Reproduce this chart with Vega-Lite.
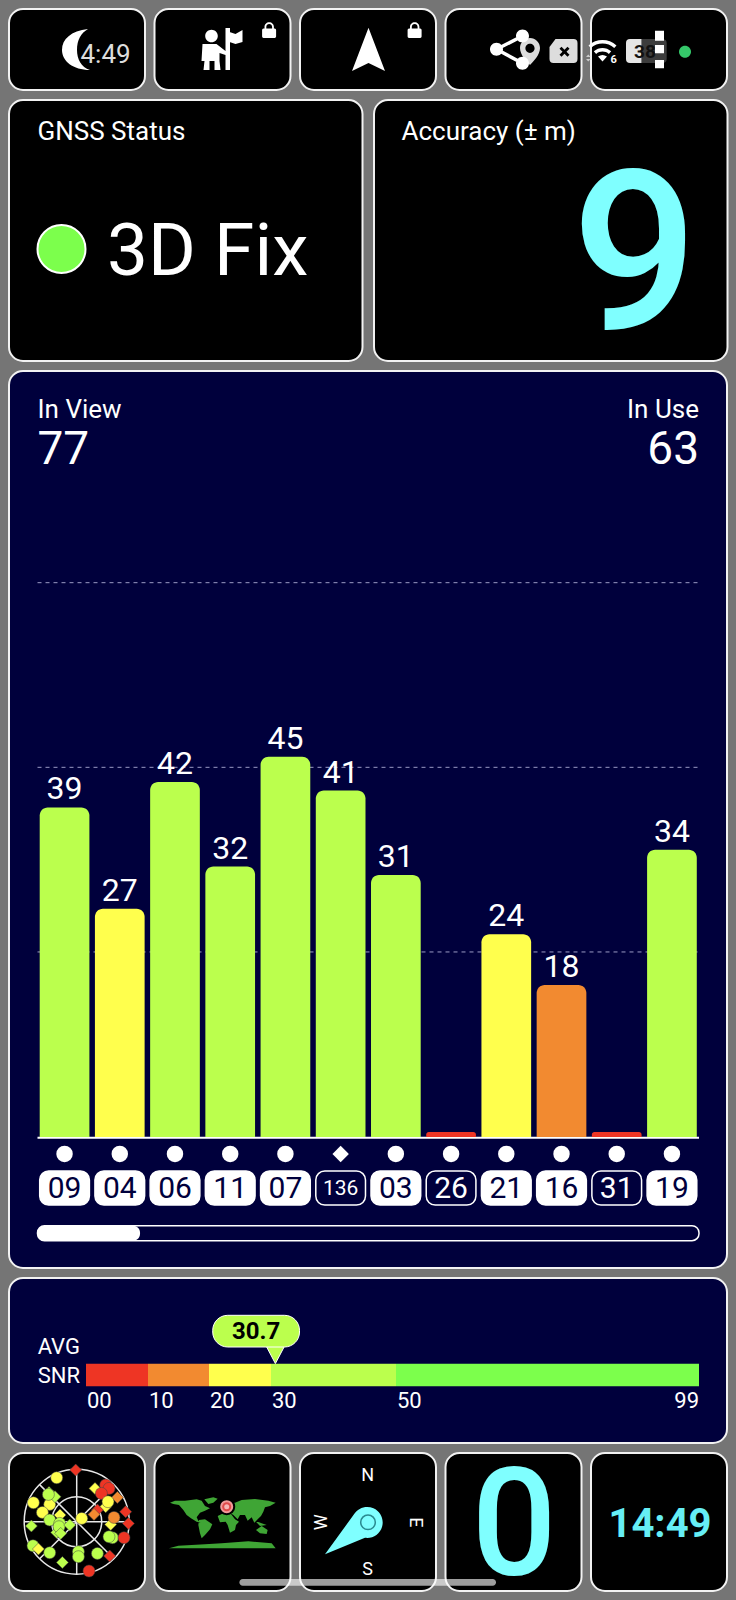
{
  "$schema": "https://vega.github.io/schema/vega-lite/v6.json",
  "description": "GNSS status dashboard: tiles, satellite SNR bars and average SNR scale.",
  "background": "#757575",
  "padding": {"left": 8, "top": 8, "right": 10, "bottom": 9},
  "bounds": "flush",
  "spacing": 0,
  "config": {
    "view": {"fill": "#000000", "stroke": "#f2f2f2", "strokeWidth": 2, "cornerRadius": 14},
    "text": {"font": "Roboto", "color": "#ffffff", "align": "left", "baseline": "alphabetic"}
  },
  "vconcat": [
    {
      "bounds": "flush",
      "spacing": 9.5,
      "hconcat": [
        {
          "width": 136, "height": 81,
          "data": {"values": [{"clock": "4:49"}]},
          "encoding": {
            "x": {"datum": 0, "type": "quantitative", "scale": {"domain": [0, 136]}, "axis": null},
            "y": {"datum": 0, "type": "quantitative", "scale": {"domain": [81, 0]}, "axis": null}
          },
          "layer": [
            {"mark": {"type": "point", "size": 4, "filled": true, "fill": "#ffffff", "opacity": 1, "strokeWidth": 0,
              "shape": "M79,20 C62,22 53,30 53,41 C53,52 64,61 81,61 C72,58 68,50 68,41 C68,31 72,24 79,20Z"}},
            {"mark": {"type": "text", "fontSize": 26, "color": "#dddddd"},
              "encoding": {
                "x": {"datum": 71.5, "type": "quantitative", "scale": {"domain": [0, 136]}, "axis": null},
                "y": {"datum": 53.7, "type": "quantitative", "scale": {"domain": [81, 0]}, "axis": null},
                "text": {"field": "clock"}
              }}
          ]
        },
        {
          "width": 136, "height": 81,
          "data": {"values": [{"icon": "waypoint"}]},
          "mark": {"type": "point", "size": 4, "filled": true, "fill": "#ffffff", "opacity": 1, "strokeWidth": 0,
            "shape": "M50.7,27 a6.3,6.3 0 1 1 12.6,0 a6.3,6.3 0 1 1 -12.6,0Z M48,35 L62,35 L71,42 L71,46 L65,44 L65,52 L66,61 L60,61 L60,52 L55,52 L55,61 L49,61 L50,52 L47,52Z M71,19 L75.5,19 L75.5,61 L71,61Z M75,23 L81,25 L88,21 L88,33 L81,35 L75,33Z M107.6,21 Q107.6,19.5 109,19.5 L120.2,19.5 Q121.6,19.5 121.6,21 L121.6,27.6 Q121.6,29 120.2,29 L109,29 Q107.6,29 107.6,27.6Z M110,20 L110,18 A4.7,4.7 0 0 1 119.4,18 L119.4,20 L117.6,20 L117.6,18 A2.9,2.9 0 0 0 111.8,18 L111.8,20Z"},
          "encoding": {
            "x": {"datum": 0, "type": "quantitative", "scale": {"domain": [0, 136]}, "axis": null},
            "y": {"datum": 0, "type": "quantitative", "scale": {"domain": [81, 0]}, "axis": null}
          }
        },
        {
          "width": 136, "height": 81,
          "data": {"values": [{"icon": "navigation"}]},
          "mark": {"type": "point", "size": 4, "filled": true, "fill": "#ffffff", "opacity": 1, "strokeWidth": 0,
            "shape": "M68.5,18.7 L85,62 L68.5,54 L52,62Z M107.6,21 Q107.6,19.5 109,19.5 L120.2,19.5 Q121.6,19.5 121.6,21 L121.6,27.6 Q121.6,29 120.2,29 L109,29 Q107.6,29 107.6,27.6Z M110,20 L110,18 A4.7,4.7 0 0 1 119.4,18 L119.4,20 L117.6,20 L117.6,18 A2.9,2.9 0 0 0 111.8,18 L111.8,20Z"},
          "encoding": {
            "x": {"datum": 0, "type": "quantitative", "scale": {"domain": [0, 136]}, "axis": null},
            "y": {"datum": 0, "type": "quantitative", "scale": {"domain": [81, 0]}, "axis": null}
          }
        },
        {
          "width": 136, "height": 81,
          "data": {"values": [{"icon": "share"}]},
          "encoding": {
            "x": {"datum": 0, "type": "quantitative", "scale": {"domain": [0, 136]}, "axis": null},
            "y": {"datum": 0, "type": "quantitative", "scale": {"domain": [81, 0]}, "axis": null}
          },
          "layer": [
            {"mark": {"type": "point", "size": 4, "filled": true, "fill": "#dddddd", "opacity": 1, "strokeWidth": 0,
              "shape": "M84.5,29 C90,29 94.5,33.5 94.5,39 C94.5,46 88,52 84.5,56 C81,52 74.5,46 74.5,39 C74.5,33.5 79,29 84.5,29Z M110,30 L128,30 Q132,30 132,34 L132,50 Q132,54 128,54 L108,54 Q104,54 104,50 L104,38Z"}},
            {"mark": {"type": "point", "size": 4, "filled": true, "fill": "#000000", "opacity": 1, "strokeWidth": 0,
              "shape": "M79.9,39.3 a4.6,4.6 0 1 1 9.2,0 a4.6,4.6 0 1 1 -9.2,0Z M114,39.7 L116,37.7 L119,40.7 L122,37.7 L124,39.7 L121,42.7 L124,45.7 L122,47.7 L119,44.7 L116,47.7 L114,45.7 L117,42.7Z"}},
            {"mark": {"type": "point", "size": 4, "filled": true, "fill": "#ffffff", "opacity": 1, "strokeWidth": 0,
              "shape": "M44.5,40.3 a6.5,6.5 0 1 1 13,0 a6.5,6.5 0 1 1 -13,0Z M70.5,27 a6.5,6.5 0 1 1 13,0 a6.5,6.5 0 1 1 -13,0Z M70.5,54.3 a6.5,6.5 0 1 1 13,0 a6.5,6.5 0 1 1 -13,0Z M50.2,38.74 L76.2,25.44 L77.8,28.56 L51.8,41.86Z M51.83,38.76 L77.83,52.76 L76.17,55.84 L50.17,41.84Z"}}
          ]
        },
        {
          "width": 136, "height": 81,
          "data": {"values": [{"battery": "38", "wifi": "6"}]},
          "encoding": {
            "x": {"datum": 0, "type": "quantitative", "scale": {"domain": [0, 136]}, "axis": null},
            "y": {"datum": 0, "type": "quantitative", "scale": {"domain": [81, 0]}, "axis": null}
          },
          "layer": [
            {"mark": {"type": "point", "size": 4, "filled": true, "fill": "#ffffff", "opacity": 1, "strokeWidth": 0,
              "shape": "M-2.5,36.4 A21,21 0 0 1 25.5,36.4 L23.2,39 A17.5,17.5 0 0 0 -0.2,39Z M2.8,42.3 A13,13 0 0 1 20.2,42.3 L17.86,44.9 A9.5,9.5 0 0 0 5.14,44.9Z M7,47.6 Q11.5,44.5 16,47.6 L11.5,52.5Z"}},
            {"mark": {"type": "point", "size": 4, "filled": true, "fill": "#cccccc", "opacity": 1, "strokeWidth": 0,
              "shape": "M-5,48 L-2.7,45.5 L-0.4,48Z M-5,50 L-0.4,50 L-2.7,52.5Z"}},
            {"mark": {"type": "text", "fontSize": 11, "fontWeight": "bold"},
              "encoding": {
                "x": {"datum": 19.5, "type": "quantitative", "scale": {"domain": [0, 136]}, "axis": null},
                "y": {"datum": 54, "type": "quantitative", "scale": {"domain": [81, 0]}, "axis": null},
                "text": {"field": "wifi"}
              }},
            {"mark": {"type": "point", "size": 4, "filled": true, "fill": "#e6e6e6", "opacity": 1, "strokeWidth": 0,
              "shape": "M39,30 L50.7,30 L50.7,54 L39,54 Q35,54 35,50 L35,34 Q35,30 39,30Z"}},
            {"mark": {"type": "point", "size": 4, "filled": true, "fill": "#3c3c3c", "opacity": 1, "strokeWidth": 0,
              "shape": "M50.7,30 L71,30 Q75.7,30 75.7,34 L75.7,50 Q75.7,54 71,54 L50.7,54Z"}},
            {"mark": {"type": "text", "fontSize": 19, "fontWeight": "bold", "color": "#111111", "align": "center"},
              "encoding": {
                "x": {"datum": 54, "type": "quantitative", "scale": {"domain": [0, 136]}, "axis": null},
                "y": {"datum": 48.5, "type": "quantitative", "scale": {"domain": [81, 0]}, "axis": null},
                "text": {"field": "battery"}
              }},
            {"mark": {"type": "point", "size": 4, "filled": true, "fill": "#ffffff", "opacity": 1, "strokeWidth": 0,
              "shape": "M64,21.7 L73,21.7 L73,31.7 L64,31.7Z M64,36 L73,36 L73,44.3 L64,44.3Z M64,51 L73,51 L73,59.3 L64,59.3Z"}},
            {"mark": {"type": "point", "size": 4, "filled": true, "fill": "#35c86a", "opacity": 1, "strokeWidth": 0,
              "shape": "M88,42.7 a6,6 0 1 1 12,0 a6,6 0 1 1 -12,0Z"}}
          ]
        }
      ]
    },
    {"width": 718, "height": 91, "view": {"fill": "transparent", "stroke": "transparent"}, "data": {"values": []}, "mark": "text"},
    {
      "bounds": "flush",
      "spacing": 11,
      "hconcat": [
        {
          "width": 353.5, "height": 261,
          "data": {"values": [{"heading": "GNSS Status", "status": "3D Fix"}]},
          "layer": [
            {"mark": {"type": "text", "fontSize": 26},
              "encoding": {
                "x": {"datum": 28.5, "type": "quantitative", "scale": {"domain": [0, 353.5]}, "axis": null},
                "y": {"datum": 40, "type": "quantitative", "scale": {"domain": [261, 0]}, "axis": null},
                "text": {"field": "heading"}
              }},
            {"mark": {"type": "point", "shape": "circle", "size": 2304, "filled": true, "fill": "#7cff4c", "stroke": "#ffffff", "strokeWidth": 2, "opacity": 1},
              "encoding": {
                "x": {"datum": 52.5, "type": "quantitative", "scale": {"domain": [0, 353.5]}, "axis": null},
                "y": {"datum": 149, "type": "quantitative", "scale": {"domain": [261, 0]}, "axis": null}
              }},
            {"mark": {"type": "text", "fontSize": 73, "fontWeight": 400},
              "encoding": {
                "x": {"datum": 98, "type": "quantitative", "scale": {"domain": [0, 353.5]}, "axis": null},
                "y": {"datum": 175, "type": "quantitative", "scale": {"domain": [261, 0]}, "axis": null},
                "text": {"field": "status"}
              }}
          ]
        },
        {
          "width": 353.5, "height": 261,
          "data": {"values": [{"heading": "Accuracy (± m)", "accuracy": "9"}]},
          "layer": [
            {"mark": {"type": "text", "fontSize": 26},
              "encoding": {
                "x": {"datum": 27.5, "type": "quantitative", "scale": {"domain": [0, 353.5]}, "axis": null},
                "y": {"datum": 40, "type": "quantitative", "scale": {"domain": [261, 0]}, "axis": null},
                "text": {"field": "heading"}
              }},
            {"mark": {"type": "text", "fontSize": 222, "fontWeight": 500, "color": "#7fffff", "align": "right"},
              "encoding": {
                "x": {"datum": 324, "type": "quantitative", "scale": {"domain": [0, 353.5]}, "axis": null},
                "y": {"datum": 229, "type": "quantitative", "scale": {"domain": [261, 0]}, "axis": null},
                "text": {"field": "accuracy"}
              }}
          ]
        }
      ]
    },
    {"width": 718, "height": 271, "view": {"fill": "transparent", "stroke": "transparent"}, "data": {"values": []}, "mark": "text"},
    {
      "width": 718, "height": 897,
      "view": {"fill": "#00003c", "stroke": "#f2f2f2", "strokeWidth": 2, "cornerRadius": 14},
      "resolve": {"scale": {"x": "independent"}},
      "layer": [
        {
          "data": {"values": [{"grid": 21.9}, {"grid": 43.75}, {"grid": 65.6}]},
          "mark": {"type": "rule", "color": "#9a9ac4", "strokeWidth": 1, "strokeDash": [4, 4]},
          "encoding": {
            "x": {"datum": 0, "type": "quantitative", "scale": {"domain": [0, 100], "range": [28.5, 690]}, "axis": null},
            "x2": {"datum": 100},
            "y": {"field": "grid", "type": "quantitative", "scale": {"domain": [-15.5, 90.65]}, "axis": null}
          }
        },
        {
          "data": {"values": [{"inViewLabel": "In View", "inView": "77", "inUseLabel": "In Use", "inUse": "63"}]},
          "encoding": {
            "x": {"datum": 0, "type": "quantitative", "scale": {"domain": [0, 100], "range": [28.5, 690]}, "axis": null},
            "y": {"datum": 85.1, "type": "quantitative", "scale": {"domain": [-15.5, 90.65]}, "axis": null}
          },
          "layer": [
            {"mark": {"type": "text", "fontSize": 26}, "encoding": {"text": {"field": "inViewLabel"}}},
            {"mark": {"type": "text", "fontSize": 46},
              "encoding": {
                "y": {"datum": 79.6, "type": "quantitative", "scale": {"domain": [-15.5, 90.65]}, "axis": null},
                "text": {"field": "inView"}
              }},
            {"mark": {"type": "text", "fontSize": 26, "align": "right"},
              "encoding": {
                "x": {"datum": 100, "type": "quantitative", "scale": {"domain": [0, 100], "range": [28.5, 690]}, "axis": null},
                "text": {"field": "inUseLabel"}
              }},
            {"mark": {"type": "text", "fontSize": 46, "align": "right"},
              "encoding": {
                "x": {"datum": 100, "type": "quantitative", "scale": {"domain": [0, 100], "range": [28.5, 690]}, "axis": null},
                "y": {"datum": 79.6, "type": "quantitative", "scale": {"domain": [-15.5, 90.65]}, "axis": null},
                "text": {"field": "inUse"}
              }},
            {"mark": {"type": "rule", "color": "#ffffff", "strokeWidth": 2},
              "encoding": {
                "x2": {"datum": 100},
                "y": {"datum": -0.1, "type": "quantitative", "scale": {"domain": [-15.5, 90.65]}, "axis": null}
              }},
            {"mark": {"type": "rect", "fill": "#00003c", "stroke": "#ffffff", "strokeWidth": 1.5, "cornerRadius": 7},
              "encoding": {
                "x2": {"datum": 100},
                "y": {"datum": -10.5, "type": "quantitative", "scale": {"domain": [-15.5, 90.65]}, "axis": null},
                "y2": {"datum": -12.27}
              }},
            {"mark": {"type": "rect", "fill": "#ffffff", "cornerRadius": 7},
              "encoding": {
                "x2": {"datum": 15.5},
                "y": {"datum": -10.5, "type": "quantitative", "scale": {"domain": [-15.5, 90.65]}, "axis": null},
                "y2": {"datum": -12.27}
              }}
          ]
        },
        {
          "data": {"values": [
            {"prn": "09", "snr": 39, "used": true, "system": "a"},
            {"prn": "04", "snr": 27, "used": true, "system": "a"},
            {"prn": "06", "snr": 42, "used": true, "system": "a"},
            {"prn": "11", "snr": 32, "used": true, "system": "a"},
            {"prn": "07", "snr": 45, "used": true, "system": "a"},
            {"prn": "136", "snr": 41, "used": false, "system": "b"},
            {"prn": "03", "snr": 31, "used": true, "system": "a"},
            {"prn": "26", "snr": 0.6, "used": false, "system": "a"},
            {"prn": "21", "snr": 24, "used": true, "system": "a"},
            {"prn": "16", "snr": 18, "used": true, "system": "a"},
            {"prn": "31", "snr": 0.6, "used": false, "system": "a"},
            {"prn": "19", "snr": 34, "used": true, "system": "a"}
          ]},
          "encoding": {
            "x": {"field": "prn", "type": "nominal", "sort": null, "axis": null,
              "scale": {"type": "band", "range": [28.5, 690], "paddingInner": 0.1, "paddingOuter": 0.04}}
          },
          "layer": [
            {"mark": {"type": "bar", "cornerRadiusTopLeft": 8, "cornerRadiusTopRight": 8},
              "encoding": {
                "y": {"field": "snr", "type": "quantitative", "stack": null, "scale": {"domain": [-15.5, 90.65]}, "axis": null},
                "color": {"field": "snr", "type": "quantitative", "legend": null,
                  "scale": {"type": "threshold", "domain": [10, 20, 30, 50], "range": ["#ee3524", "#f28a30", "#ffff4d", "#bbff4d", "#7cff4c"]}}
              }},
            {"transform": [{"filter": "datum.snr >= 1"}],
              "mark": {"type": "text", "fontSize": 32, "align": "center", "baseline": "bottom", "dy": -1},
              "encoding": {
                "y": {"field": "snr", "type": "quantitative", "scale": {"domain": [-15.5, 90.65]}, "axis": null},
                "text": {"field": "snr", "type": "quantitative"}
              }},
            {"mark": {"type": "point", "filled": true, "fill": "#ffffff", "opacity": 1, "size": 270, "strokeWidth": 0},
              "encoding": {
                "y": {"datum": -2, "type": "quantitative", "scale": {"domain": [-15.5, 90.65]}, "axis": null},
                "shape": {"field": "system", "type": "nominal", "legend": null, "scale": {"domain": ["a", "b"], "range": ["circle", "diamond"]}}
              }},
            {"mark": {"type": "rect", "stroke": "#ffffff", "strokeWidth": 1.5, "cornerRadius": 9},
              "encoding": {
                "y": {"datum": -4.02, "type": "quantitative", "scale": {"domain": [-15.5, 90.65]}, "axis": null},
                "y2": {"datum": -8.05},
                "fill": {"condition": {"test": "datum.used", "value": "#ffffff"}, "value": "#00003c"}
              }},
            {"mark": {"type": "text", "align": "center", "baseline": "middle", "dy": 1},
              "encoding": {
                "y": {"datum": -6.03, "type": "quantitative", "scale": {"domain": [-15.5, 90.65]}, "axis": null},
                "text": {"field": "prn"},
                "size": {"condition": {"test": "length(datum.prn) > 2", "value": 21}, "value": 30},
                "color": {"condition": {"test": "datum.used", "value": "#00003c"}, "value": "#ffffff"}
              }}
          ]
        }
      ]
    },
    {"width": 718, "height": 10, "view": {"fill": "transparent", "stroke": "transparent"}, "data": {"values": []}, "mark": "text"},
    {
      "width": 718, "height": 165,
      "view": {"fill": "#00003c", "stroke": "#f2f2f2", "strokeWidth": 2, "cornerRadius": 14},
      "layer": [
        {
          "data": {"values": [
            {"from": 0, "to": 10},
            {"from": 10, "to": 20},
            {"from": 20, "to": 30},
            {"from": 30, "to": 50},
            {"from": 50, "to": 99}
          ]},
          "mark": {"type": "rect"},
          "encoding": {
            "x": {"field": "from", "type": "quantitative", "axis": null,
              "scale": {"domain": [0, 10, 20, 30, 50, 99], "range": [77, 139, 200, 262, 387, 690]}},
            "x2": {"field": "to"},
            "y": {"datum": 85.7, "type": "quantitative", "scale": {"domain": [165, 0]}, "axis": null},
            "y2": {"datum": 108.3},
            "color": {"field": "from", "type": "quantitative", "legend": null,
              "scale": {"type": "threshold", "domain": [10, 20, 30, 50], "range": ["#ee3524", "#f28a30", "#ffff4d", "#bbff4d", "#7cff4c"]}}
          }
        },
        {
          "data": {"values": [{"tick": 0, "label": "00"}, {"tick": 10, "label": "10"}, {"tick": 20, "label": "20"}, {"tick": 30, "label": "30"}, {"tick": 50, "label": "50"}]},
          "mark": {"type": "text", "fontSize": 22, "dx": 1},
          "encoding": {
            "x": {"field": "tick", "type": "quantitative", "axis": null,
              "scale": {"domain": [0, 10, 20, 30, 50, 99], "range": [77, 139, 200, 262, 387, 690]}},
            "y": {"datum": 130, "type": "quantitative", "scale": {"domain": [165, 0]}, "axis": null},
            "text": {"field": "label"}
          }
        },
        {
          "data": {"values": [{"tick": 99, "label": "99"}]},
          "mark": {"type": "text", "fontSize": 22, "align": "right"},
          "encoding": {
            "x": {"field": "tick", "type": "quantitative", "axis": null,
              "scale": {"domain": [0, 10, 20, 30, 50, 99], "range": [77, 139, 200, 262, 387, 690]}},
            "y": {"datum": 130, "type": "quantitative", "scale": {"domain": [165, 0]}, "axis": null},
            "text": {"field": "label"}
          }
        },
        {
          "data": {"values": [{"avg": 30.7, "label": "30.7", "line1": "AVG", "line2": "SNR"}]},
          "layer": [
            {"mark": {"type": "text", "fontSize": 22},
              "encoding": {
                "x": {"datum": -7.8, "type": "quantitative", "axis": null,
                  "scale": {"domain": [0, 10, 20, 30, 50, 99], "range": [77, 139, 200, 262, 387, 690]}},
                "y": {"datum": 76, "type": "quantitative", "scale": {"domain": [165, 0]}, "axis": null},
                "text": {"field": "line1"}
              }},
            {"mark": {"type": "text", "fontSize": 22},
              "encoding": {
                "x": {"datum": -7.8, "type": "quantitative", "axis": null,
                  "scale": {"domain": [0, 10, 20, 30, 50, 99], "range": [77, 139, 200, 262, 387, 690]}},
                "y": {"datum": 105, "type": "quantitative", "scale": {"domain": [165, 0]}, "axis": null},
                "text": {"field": "line2"}
              }},
            {"mark": {"type": "point", "filled": true, "fill": "#bbff4d", "stroke": "#ffffff", "strokeWidth": 1, "opacity": 1, "size": 324,
              "shape": "M-1,-0.95 L1,-0.95 L0,0.95Z"},
              "encoding": {
                "x": {"field": "avg", "type": "quantitative", "axis": null,
                  "scale": {"domain": [0, 10, 20, 30, 50, 99], "range": [77, 139, 200, 262, 387, 690]}},
                "y": {"datum": 77, "type": "quantitative", "scale": {"domain": [165, 0]}, "axis": null}
              }},
            {"mark": {"type": "rect", "fill": "#bbff4d", "stroke": "#ffffff", "strokeWidth": 1, "cornerRadius": 15},
              "encoding": {
                "x": {"datum": 20.6, "type": "quantitative", "axis": null,
                  "scale": {"domain": [0, 10, 20, 30, 50, 99], "range": [77, 139, 200, 262, 387, 690]}},
                "x2": {"datum": 34.56},
                "y": {"datum": 37.3, "type": "quantitative", "scale": {"domain": [165, 0]}, "axis": null},
                "y2": {"datum": 69}
              }},
            {"mark": {"type": "text", "fontSize": 24, "fontWeight": "bold", "color": "#000000", "align": "center"},
              "encoding": {
                "x": {"datum": 27.6, "type": "quantitative", "axis": null,
                  "scale": {"domain": [0, 10, 20, 30, 50, 99], "range": [77, 139, 200, 262, 387, 690]}},
                "y": {"datum": 61, "type": "quantitative", "scale": {"domain": [165, 0]}, "axis": null},
                "text": {"field": "label"}
              }}
          ]
        }
      ]
    },
    {"width": 718, "height": 10, "view": {"fill": "transparent", "stroke": "transparent"}, "data": {"values": []}, "mark": "text"},
    {
      "bounds": "flush",
      "spacing": 9.5,
      "hconcat": [
        {
          "width": 136, "height": 138,
          "layer": [
            {
              "data": {"values": [{"e": 0, "n": 0}]},
              "encoding": {
                "x": {"field": "e", "type": "quantitative", "scale": {"domain": [-67.7, 68.3]}, "axis": null},
                "y": {"field": "n", "type": "quantitative", "scale": {"domain": [-69.3, 68.7]}, "axis": null}
              },
              "layer": [
                {"mark": {"type": "point", "shape": "circle", "size": 11025, "filled": false, "stroke": "#e8e8e8", "strokeWidth": 1.5, "opacity": 1}},
                {"mark": {"type": "point", "shape": "circle", "size": 2500, "filled": false, "stroke": "#e8e8e8", "strokeWidth": 1.5, "opacity": 1}}
              ]
            },
            {
              "data": {"values": [
                {"e": 0, "n": 52.5, "e2": 0, "n2": -52.5},
                {"e": -52.5, "n": 0, "e2": 52.5, "n2": 0},
                {"e": -37.1, "n": 37.1, "e2": 37.1, "n2": -37.1},
                {"e": 37.1, "n": 37.1, "e2": -37.1, "n2": -37.1}
              ]},
              "mark": {"type": "rule", "color": "#e8e8e8", "strokeWidth": 1.5},
              "encoding": {
                "x": {"field": "e", "type": "quantitative", "scale": {"domain": [-67.7, 68.3]}, "axis": null},
                "x2": {"field": "e2"},
                "y": {"field": "n", "type": "quantitative", "scale": {"domain": [-69.3, 68.7]}, "axis": null},
                "y2": {"field": "n2"}
              }
            },
            {
              "data": {"values": [
                {"e": -1, "n": 51.7, "kind": "pentagon", "snr": 5},
                {"e": -20, "n": 44, "kind": "star", "snr": 25},
                {"e": 18.3, "n": 33.3, "kind": "triangle", "snr": 25},
                {"e": 29, "n": 36.7, "kind": "circle", "snr": 5},
                {"e": 32.3, "n": 33.3, "kind": "circle", "snr": 5},
                {"e": 24.7, "n": 28.3, "kind": "star", "snr": 5},
                {"e": 40.7, "n": 24.3, "kind": "pentagon", "snr": 15},
                {"e": 29, "n": 15, "kind": "pentagon", "snr": 25},
                {"e": 31.3, "n": 20, "kind": "star", "snr": 25},
                {"e": 20.7, "n": 11.7, "kind": "triangle", "snr": 5},
                {"e": 17.3, "n": 7.3, "kind": "pentagon", "snr": 15},
                {"e": 49, "n": 10, "kind": "triangle", "snr": 5},
                {"e": 51.7, "n": -1.7, "kind": "pentagon", "snr": 5},
                {"e": 34, "n": -2.7, "kind": "triangle", "snr": 25},
                {"e": 37.3, "n": 4.3, "kind": "star", "snr": 15},
                {"e": 35.7, "n": -16, "kind": "circle", "snr": 35},
                {"e": 32.3, "n": -15, "kind": "star", "snr": 35},
                {"e": 47.3, "n": -16, "kind": "star", "snr": 5},
                {"e": 33, "n": -34.3, "kind": "triangle", "snr": 5},
                {"e": 12.3, "n": -49.3, "kind": "star", "snr": 5},
                {"e": 20.7, "n": -31.7, "kind": "diamond", "snr": 35},
                {"e": 1.7, "n": -30, "kind": "circle", "snr": 35},
                {"e": 1.7, "n": -35, "kind": "circle", "snr": 35},
                {"e": -14.3, "n": -40.7, "kind": "triangle", "snr": 35},
                {"e": -27, "n": -31, "kind": "star", "snr": 35},
                {"e": -43.7, "n": -24, "kind": "circle", "snr": 35},
                {"e": -38.3, "n": -27.3, "kind": "pentagon", "snr": 25},
                {"e": -45.3, "n": -4.3, "kind": "triangle", "snr": 35},
                {"e": -43.3, "n": 19, "kind": "circle", "snr": 25},
                {"e": -27, "n": 17.3, "kind": "circle", "snr": 25},
                {"e": -27.7, "n": 29.3, "kind": "pentagon", "snr": 35},
                {"e": -21.7, "n": 25, "kind": "triangle", "snr": 35},
                {"e": -28.3, "n": 27.3, "kind": "star", "snr": 35},
                {"e": -34.3, "n": 9.3, "kind": "star", "snr": 25},
                {"e": -27, "n": 1.7, "kind": "star", "snr": 35},
                {"e": -16.7, "n": 6.7, "kind": "triangle", "snr": 25},
                {"e": -20, "n": -10.7, "kind": "triangle", "snr": 35},
                {"e": -17, "n": -1.7, "kind": "circle", "snr": 35},
                {"e": -17.7, "n": -5, "kind": "circle", "snr": 35},
                {"e": -16, "n": -11.7, "kind": "pentagon", "snr": 35},
                {"e": -7, "n": -3.3, "kind": "pentagon", "snr": 35},
                {"e": 5, "n": 3.3, "kind": "star", "snr": 25}
              ]},
              "mark": {"type": "point", "filled": true, "opacity": 1, "size": 144, "stroke": "#444444", "strokeWidth": 0.5},
              "encoding": {
                "x": {"field": "e", "type": "quantitative", "scale": {"domain": [-67.7, 68.3]}, "axis": null},
                "y": {"field": "n", "type": "quantitative", "scale": {"domain": [-69.3, 68.7]}, "axis": null},
                "shape": {"field": "kind", "type": "nominal", "legend": null,
                  "scale": {"domain": ["circle", "pentagon", "star", "triangle", "diamond"],
                    "range": ["circle",
                      "M0,-1.15 L1.09,-0.36 L0.68,0.93 L-0.68,0.93 L-1.09,-0.36Z",
                      "M0,-1.25 L0.36,-0.36 L1.25,0 L0.36,0.36 L0,1.25 L-0.36,0.36 L-1.25,0 L-0.36,-0.36Z",
                      "M0,-1.1 L1.1,1 L-1.1,1Z",
                      "M0,-1.2 L1.2,0 L0,1.2 L-1.2,0Z"]}},
                "fill": {"field": "snr", "type": "quantitative", "legend": null,
                  "scale": {"type": "threshold", "domain": [10, 20, 30, 50], "range": ["#ee3524", "#f28a30", "#ffff4d", "#bbff4d", "#7cff4c"]}}
              }
            }
          ]
        },
        {
          "width": 136, "height": 138,
          "data": {"values": [{"icon": "world map"}]},
          "encoding": {
            "x": {"datum": 0.5, "type": "quantitative", "scale": {"domain": [0, 136]}, "axis": null},
            "y": {"datum": 27, "type": "quantitative", "scale": {"domain": [138, 0]}, "axis": null}
          },
          "layer": [
            {"mark": {"type": "point", "size": 0.4444, "filled": true, "fill": "#3fa535", "opacity": 1, "strokeWidth": 0,
              "shape": "M45,68 L60,62 L90,62 L125,58 L140,62 L150,78 L165,85 L150,92 L135,98 L125,112 L130,122 L137,128 L125,125 L108,115 L95,105 L85,90 L72,75 L55,72Z M148,58 L175,52 L188,56 L175,68 L160,72Z M132,120 L150,118 L172,133 L165,148 L150,165 L140,175 L135,160 L130,135Z M195,90 L205,72 L240,68 L260,60 L300,57 L340,62 L362,68 L345,78 L330,82 L325,95 L318,108 L308,118 L298,128 L290,112 L278,122 L270,105 L255,105 L248,118 L235,105 L225,98 L205,100Z M188,108 L205,100 L228,102 L240,118 L252,125 L243,135 L240,150 L225,158 L218,135 L212,125 L195,127Z M303,150 L320,138 L338,150 L335,162 L315,160Z M300,122 L320,130 L335,135 L315,138Z M42,205 L70,197 L150,193 L200,190 L280,184 L350,190 L362,205Z"}},
            {"mark": {"type": "point", "shape": "circle", "size": 290, "filled": true, "fill": "#000000", "opacity": 1, "strokeWidth": 0},
              "encoding": {
                "x": {"datum": 72.2, "type": "quantitative", "scale": {"domain": [0, 136]}, "axis": null},
                "y": {"datum": 53.7, "type": "quantitative", "scale": {"domain": [138, 0]}, "axis": null}
              }},
            {"mark": {"type": "point", "shape": "circle", "size": 170, "filled": true, "fill": "#f29a9a", "opacity": 1, "strokeWidth": 0},
              "encoding": {
                "x": {"datum": 72.2, "type": "quantitative", "scale": {"domain": [0, 136]}, "axis": null},
                "y": {"datum": 53.7, "type": "quantitative", "scale": {"domain": [138, 0]}, "axis": null}
              }},
            {"mark": {"type": "point", "shape": "circle", "size": 81, "filled": true, "fill": "#e04a4a", "opacity": 1, "strokeWidth": 0},
              "encoding": {
                "x": {"datum": 72.2, "type": "quantitative", "scale": {"domain": [0, 136]}, "axis": null},
                "y": {"datum": 53.7, "type": "quantitative", "scale": {"domain": [138, 0]}, "axis": null}
              }},
            {"mark": {"type": "point", "shape": "circle", "size": 25, "filled": true, "fill": "#f7b5b5", "opacity": 1, "strokeWidth": 0},
              "encoding": {
                "x": {"datum": 72.2, "type": "quantitative", "scale": {"domain": [0, 136]}, "axis": null},
                "y": {"datum": 53.7, "type": "quantitative", "scale": {"domain": [138, 0]}, "axis": null}
              }}
          ]
        },
        {
          "width": 136, "height": 138,
          "data": {"values": [{"north": "N", "east": "E", "south": "S", "west": "W"}]},
          "layer": [
            {"mark": {"type": "text", "fontSize": 18, "align": "center", "baseline": "middle"},
              "encoding": {
                "x": {"datum": 67.7, "type": "quantitative", "scale": {"domain": [0, 136]}, "axis": null},
                "y": {"datum": 22.7, "type": "quantitative", "scale": {"domain": [138, 0]}, "axis": null},
                "text": {"field": "north"}
              }},
            {"mark": {"type": "text", "fontSize": 18, "align": "center", "baseline": "middle"},
              "encoding": {
                "x": {"datum": 67.7, "type": "quantitative", "scale": {"domain": [0, 136]}, "axis": null},
                "y": {"datum": 117, "type": "quantitative", "scale": {"domain": [138, 0]}, "axis": null},
                "text": {"field": "south"}
              }},
            {"mark": {"type": "text", "fontSize": 18, "align": "center", "baseline": "middle", "angle": 90},
              "encoding": {
                "x": {"datum": 115, "type": "quantitative", "scale": {"domain": [0, 136]}, "axis": null},
                "y": {"datum": 69.3, "type": "quantitative", "scale": {"domain": [138, 0]}, "axis": null},
                "text": {"field": "east"}
              }},
            {"mark": {"type": "text", "fontSize": 18, "align": "center", "baseline": "middle", "angle": 270},
              "encoding": {
                "x": {"datum": 21.7, "type": "quantitative", "scale": {"domain": [0, 136]}, "axis": null},
                "y": {"datum": 69.3, "type": "quantitative", "scale": {"domain": [138, 0]}, "axis": null},
                "text": {"field": "west"}
              }},
            {"mark": {"type": "point", "size": 4, "filled": true, "fill": "#7fffff", "opacity": 1, "strokeWidth": 0,
              "shape": "M-43,32 L-14,-8 A15.5,15.5 0 1 1 -3,15.5Z"},
              "encoding": {
                "x": {"datum": 68, "type": "quantitative", "scale": {"domain": [0, 136]}, "axis": null},
                "y": {"datum": 69.3, "type": "quantitative", "scale": {"domain": [138, 0]}, "axis": null}
              }},
            {"mark": {"type": "point", "shape": "circle", "size": 213, "filled": false, "stroke": "#2a8a90", "strokeWidth": 1.5, "opacity": 1},
              "encoding": {
                "x": {"datum": 68, "type": "quantitative", "scale": {"domain": [0, 136]}, "axis": null},
                "y": {"datum": 69.3, "type": "quantitative", "scale": {"domain": [138, 0]}, "axis": null}
              }}
          ]
        },
        {
          "width": 136, "height": 138,
          "data": {"values": [{"speed": "0"}]},
          "layer": [
            {"mark": {"type": "text", "fontSize": 150, "fontWeight": 500, "color": "#7fffff", "align": "center"},
              "encoding": {
                "x": {"datum": 68.5, "type": "quantitative", "scale": {"domain": [0, 136]}, "axis": null},
                "y": {"datum": 122, "type": "quantitative", "scale": {"domain": [138, 0]}, "axis": null},
                "text": {"field": "speed"}
              }},
            {"mark": {"type": "rect", "fill": "#ffffff", "opacity": 0.62, "cornerRadius": 3.3},
              "encoding": {
                "x": {"datum": -206.1, "type": "quantitative", "scale": {"domain": [0, 136]}, "axis": null},
                "x2": {"datum": 50.5},
                "y": {"datum": 126, "type": "quantitative", "scale": {"domain": [138, 0]}, "axis": null},
                "y2": {"datum": 132.7}
              }}
          ]
        },
        {
          "width": 136, "height": 138,
          "data": {"values": [{"time": "14:49"}]},
          "mark": {"type": "text", "fontSize": 40, "fontWeight": "bold", "color": "#66eef5", "align": "center"},
          "encoding": {
            "x": {"datum": 69, "type": "quantitative", "scale": {"domain": [0, 136]}, "axis": null},
            "y": {"datum": 84, "type": "quantitative", "scale": {"domain": [138, 0]}, "axis": null},
            "text": {"field": "time"}
          }
        }
      ]
    },
    {"width": 718, "height": 138, "view": {"fill": "transparent", "stroke": "transparent"}, "data": {"values": []}, "mark": "text"}
  ]
}
